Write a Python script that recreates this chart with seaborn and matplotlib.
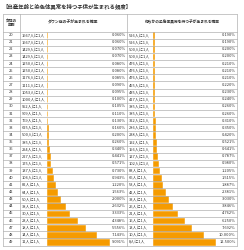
import matplotlib
matplotlib.use("Agg")
import matplotlib.pyplot as plt
import seaborn as sns
import pandas as pd
from matplotlib import transforms
from matplotlib.lines import Line2D

sns.set_theme(style="white")
plt.rcParams['font.family'] = ['Noto Sans CJK JP', 'DejaVu Sans']

# ---- data ----
title = "【出産年齢と染色体異常を持つ子供が生まれる頻度】"
age_header = "女性の\n年齢"
down_header = "ダウン症の子が生まれる確率"
any_header = "何らかの染色体異常を持つ子が生まれる確率"

ages = [20, 21, 22, 23, 24, 25, 26, 27, 28, 29,
        30, 31, 32, 33, 34, 35, 36, 37, 38, 39,
        40, 41, 42, 43, 44, 45, 46, 47, 48, 49]
down_n = [1667, 1667, 1429, 1429, 1250, 1250, 1176, 1111, 1053, 1000,
          952, 909, 769, 625, 500, 385, 294, 227, 175, 137,
          106, 82, 64, 50, 38, 30, 23, 18, 14, 11]
down_pct = [0.060, 0.060, 0.070, 0.070, 0.080, 0.080, 0.085, 0.090, 0.095, 0.100,
            0.105, 0.110, 0.130, 0.160, 0.200, 0.260, 0.340, 0.441, 0.571, 0.730,
            0.943, 1.220, 1.563, 2.000, 2.632, 3.333, 4.348, 5.556, 7.143, 9.091]
any_n = [526, 526, 500, 500, 476, 476, 476, 455, 435, 417,
         385, 385, 322, 286, 238, 192, 156, 127, 102, 83,
         66, 53, 42, 33, 26, 21, 16, 13, 10, 8]
any_pct = [0.190, 0.190, 0.200, 0.200, 0.210, 0.210, 0.210, 0.220, 0.230, 0.240,
           0.260, 0.260, 0.310, 0.350, 0.420, 0.521, 0.641, 0.787, 0.980, 1.205,
           1.515, 1.887, 2.381, 3.030, 3.846, 4.762, 6.250, 7.692, 10.000, 12.500]

df = pd.DataFrame({
    "age": [str(a) for a in ages],
    "down_pct": down_pct,
    "any_pct": any_pct,
})

# ---- layout (pixels) ----
W, H = 244, 250
fig = plt.figure(figsize=(W / 100, H / 100), dpi=100)
fig.patch.set_facecolor("white")

def fx(px):
    return px / W

def fy(py):
    return 1 - py / H

ORANGE = "#F59B00"
GRID = "#a8a8a8"
TXT = "#333333"
FS = 2.9

tbl_left, tbl_right = 3, 237
col_age, col_mid = 20, 127
top, head_bot, bot = 14, 31.5, 245.5
nrows = len(ages)
rh = (bot - head_bot) / nrows

# title
fig.text(fx(2), fy(6.5), title, fontsize=3.9, color=TXT, ha="left", va="center",
         fontweight="bold")

# table lines
for py in [top, head_bot, bot] + [head_bot + k * rh for k in range(1, nrows)]:
    fig.add_artist(Line2D([fx(tbl_left), fx(tbl_right)], [fy(py), fy(py)],
                          transform=fig.transFigure, color=GRID, lw=0.45))
for px in [tbl_left, col_age, col_mid, tbl_right]:
    fig.add_artist(Line2D([fx(px), fx(px)], [fy(top), fy(bot)],
                          transform=fig.transFigure, color=GRID, lw=0.45))

# headers
fig.text(fx((tbl_left + col_age) / 2), fy((top + head_bot) / 2), age_header,
         fontsize=2.7, fontweight="bold", color=TXT, ha="center", va="center",
         linespacing=1.3)
fig.text(fx((col_age + col_mid) / 2), fy((top + head_bot) / 2), down_header,
         fontsize=2.8, fontweight="bold", color=TXT, ha="center", va="center")
fig.text(fx((col_mid + tbl_right) / 2), fy((top + head_bot) / 2), any_header,
         fontsize=2.7, fontweight="bold", color=TXT, ha="center", va="center")

# bar axes
def bar_axes(x0, width, xmax, col, ns, pcts, name_x, pct_x):
    ax = fig.add_axes([fx(x0), fy(bot), width / W, (bot - head_bot) / H])
    sns.barplot(data=df, x=col, y="age", order=df["age"].tolist(), orient="h",
                color=ORANGE, saturation=1, width=0.8, ax=ax,
                edgecolor=ORANGE, linewidth=0.4)
    ax.set_xlim(0, xmax)
    ax.set_ylim(nrows - 0.5, -0.5)
    ax.set_axis_off()
    tr = transforms.blended_transform_factory(fig.transFigure, ax.transData)
    for i, (n, p) in enumerate(zip(ns, pcts)):
        ax.text(fx(name_x), i, f"{n}人に1人", transform=tr, fontsize=FS,
                color=TXT, ha="left", va="center", clip_on=False)
        ax.text(fx(pct_x), i, f"{p:.3f}%", transform=tr, fontsize=FS,
                color=TXT, ha="right", va="center", clip_on=False)
    return ax

axL = bar_axes(46.5, 74, 74 / 6.9, "down_pct", down_n, down_pct, 22, 125.5)
axR = bar_axes(153, 80, 16, "any_pct", any_n, any_pct, 129, 235.5)

# age labels
trA = transforms.blended_transform_factory(fig.transFigure, axL.transData)
for i, a in enumerate(ages):
    axL.text(fx((tbl_left + col_age) / 2), i, str(a), transform=trA, fontsize=FS,
             color=TXT, ha="center", va="center", clip_on=False)

fig.savefig("out.png", dpi=100, facecolor="white")
